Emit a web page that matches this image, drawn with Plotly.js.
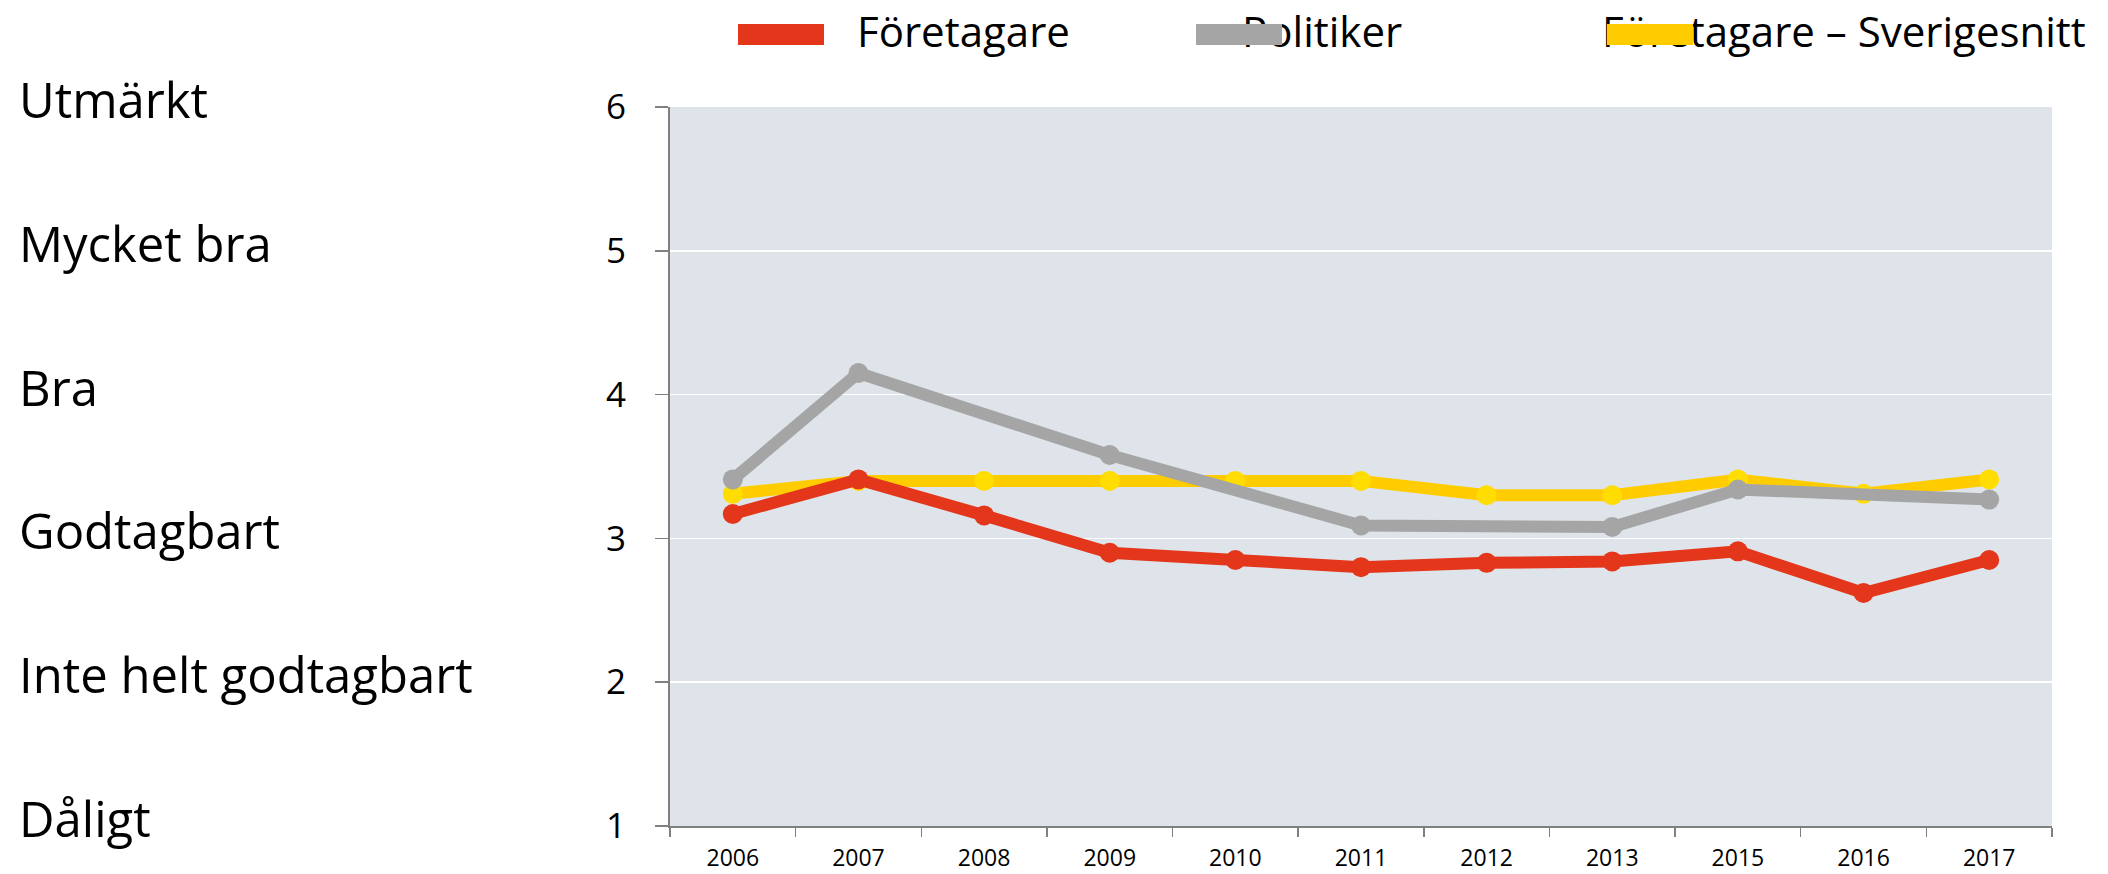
<!DOCTYPE html>
<html>
<head>
<meta charset="utf-8">
<script src="https://cdn.plot.ly/plotly-3.0.1.min.js"></script>
<style>html,body{margin:0;padding:0;background:#fff;}#chart{width:2108px;height:874px;}</style>
</head>
<body>
<div id="chart"></div>
<script>
// ---- Data ----
const years = ['2006','2007','2008','2009','2010','2011','2012','2013','2015','2016','2017'];
const foretagare = [3.17, 3.41, 3.16, 2.90, 2.85, 2.80, 2.83, 2.84, 2.91, 2.62, 2.85];
const politiker = [3.41, 4.15, null, 3.58, null, 3.09, null, 3.08, 3.34, null, 3.27];
const sverigesnitt = [3.31, 3.40, 3.40, 3.40, 3.40, 3.40, 3.30, 3.30, 3.41, 3.31, 3.41];
const seriesNames = ['Företagare', 'Politiker', 'Företagare – Sverigesnitt'];
const ratingValues = [1, 2, 3, 4, 5, 6];
const ratingLabels = ['Dåligt', 'Inte helt godtagbart', 'Godtagbart', 'Bra', 'Mycket bra', 'Utmärkt'];

// ---- Style ----
const FONT = 'Open Sans, Lato, sans-serif';
const RED = '#E3361A', GRAY = '#A5A5A5', YELLOW = '#FFCC00', YELLOW_MK = '#FFDD00';
const W = 2108, H = 874;
const M = {l: 670, r: 56, t: 107, b: 48};
const PW = W - M.l - M.r, PH = H - M.t - M.b;
const px2x = p => (p - M.l) / PW;
const px2y = p => (H - M.b - p) / PH;

function lineTrace(y, name, color, mkColor) {
  return {
    type: 'scatter', mode: 'lines+markers', x: years, y: y, name: name,
    connectgaps: true,
    line: {color: color, width: 12},
    marker: {color: mkColor, size: 20},
    showlegend: false, hoverinfo: 'x+y+name'
  };
}

const data = [
  lineTrace(sverigesnitt, seriesNames[2], YELLOW, YELLOW_MK),
  lineTrace(politiker, seriesNames[1], GRAY, GRAY),
  lineTrace(foretagare, seriesNames[0], RED, RED)
];

const annotations = [];
// rating labels on the left
ratingValues.forEach((v, i) => {
  annotations.push({
    xref: 'paper', yref: 'y', x: px2x(17), y: v, xanchor: 'left', yanchor: 'middle',
    yshift: 8, text: ratingLabels[i], showarrow: false,
    font: {family: FONT, size: 49, color: '#000'}
  });
});
// custom legend: text first, swatches drawn above
const legendColors = [RED, GRAY, YELLOW];
const legendTextX = [855, 1240, 1600];
const legendSwatchX = [738, 1196, 1607];
seriesNames.forEach((n, i) => {
  annotations.push({
    xref: 'paper', yref: 'paper', x: px2x(legendTextX[i]), y: px2y(30),
    xanchor: 'left', yanchor: 'middle', text: n, showarrow: false,
    font: {family: FONT, size: 42, color: '#000'}
  });
});
seriesNames.forEach((n, i) => {
  annotations.push({
    xref: 'paper', yref: 'paper', x: px2x(legendSwatchX[i]), y: px2y(35),
    xanchor: 'left', yanchor: 'middle', text: ' ', showarrow: false,
    width: 86, height: 21, bgcolor: legendColors[i], borderpad: 0, borderwidth: 0,
    font: {family: FONT, size: 10, color: legendColors[i]}
  });
});

const layout = {
  width: W, height: H,
  margin: M,
  paper_bgcolor: '#FFFFFF',
  plot_bgcolor: '#DEE4EA',
  showlegend: false,
  font: {family: FONT, color: '#000'},
  xaxis: {
    type: 'category', tickson: 'boundaries', range: [-0.5, years.length - 0.5],
    ticks: 'outside', ticklen: 9, tickwidth: 1.5, tickcolor: '#808080',
    showline: true, linecolor: '#808080', linewidth: 2,
    showgrid: false, zeroline: false,
    tickfont: {family: FONT, size: 23, color: '#000'},
    ticklabelstandoff: 10,
    fixedrange: true
  },
  yaxis: {
    range: [1, 6], tick0: 1, dtick: 1,
    ticks: 'outside', ticklen: 13, tickwidth: 1.5, tickcolor: '#808080',
    showline: true, linecolor: '#808080', linewidth: 2,
    showgrid: true, gridcolor: '#FFFFFF', gridwidth: 1.5, zeroline: false,
    tickfont: {family: FONT, size: 35, color: '#000'},
    ticklabelstandoff: 22,
    fixedrange: true
  },
  annotations: annotations
};

Plotly.newPlot('chart', data, layout, {displayModeBar: false, staticPlot: true});
</script>
</body>
</html>
